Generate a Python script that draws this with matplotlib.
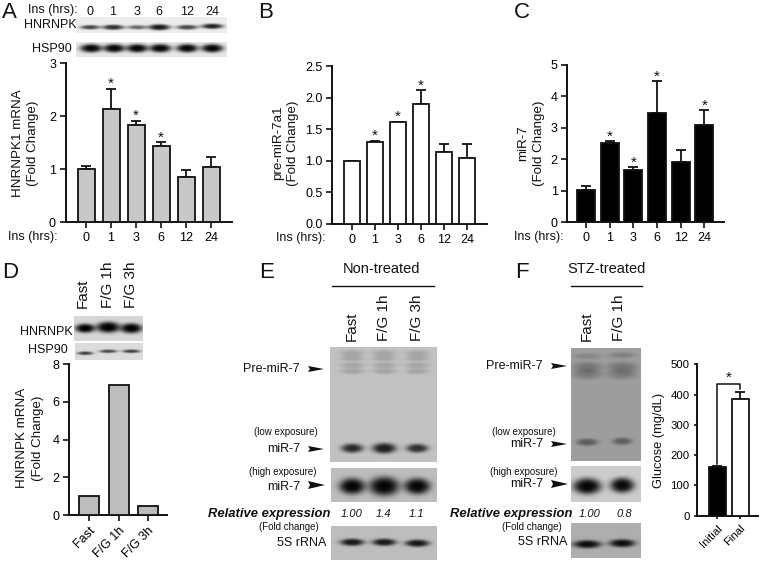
#!/usr/bin/env python3
"""Recreate the multi-panel figure: bar charts plus blot panels."""

import matplotlib

matplotlib.use("Agg")

import matplotlib.pyplot as plt
import numpy as np

plt.rcParams["font.family"] = ["Liberation Sans", "DejaVu Sans"]
plt.rcParams["text.color"] = "#111111"

W, H = 760, 563

# Bar data
hours = ["0", "1", "3", "6", "12", "24"]
hnrnpk1_mrna = [1.0, 2.14, 1.84, 1.44, 0.85, 1.05]
hnrnpk1_err = [0.07, 0.38, 0.08, 0.07, 0.14, 0.18]
hnrnpk1_stars = [1, 2, 3]

pre_mir = [1.0, 1.30, 1.61, 1.90, 1.14, 1.05]
pre_mir_err = [0.005, 0.02, 0.01, 0.22, 0.13, 0.22]
pre_mir_stars = [1, 2, 3]

mir7 = [1.03, 2.53, 1.66, 3.47, 1.90, 3.08]
mir7_err = [0.11, 0.04, 0.08, 1.0, 0.40, 0.47]
mir7_stars = [1, 2, 3, 5]

feeding = ["Fast", "F/G 1h", "F/G 3h"]
hnrnpk_mrna = [1.0, 6.9, 0.5]

glucose_groups = ["Initial", "Final"]
glucose = [160, 385]
glucose_err = [5, 22]

# Blot bands: (x centre px, y centre px, half width, half height, darkness)
a_hnrnpk = [(90, 27, 10, 2.2, 0.7), (113, 27, 11, 2.6, 0.8), (137, 27, 10, 2.2, 0.55),
            (159, 27, 11, 3, 0.9), (187, 27, 11, 2.4, 0.7), (212, 26, 11, 2.6, 0.85)]
a_hsp90 = [(x, 48, 11, 4.2, 0.97) for x in (91, 114, 137, 160, 187, 212)]
d_hnrnpk = [(85, 328, 10, 4.5, 1.0), (108, 327, 12, 5.5, 1.0), (131, 328, 11, 5, 1.0)]
d_hsp90 = [(85, 353, 8, 1.8, 0.7), (108, 351, 9, 1.8, 0.65), (131, 351, 9, 1.8, 0.7)]

e_lanes = [352, 384, 417]
e_main = [(x, y, 12, 3, 0.15) for x in e_lanes for y in (353, 358, 365, 371)]
e_main += [(352, 448, 11, 4.6, 0.78), (384, 448, 12, 5.2, 0.85), (417, 448, 11, 4.4, 0.75)]
e_high = [(352, 486, 13, 8, 0.97), (384, 486, 15, 9.5, 0.97), (417, 486, 13, 8, 0.97)]
e_rrna = [(352, 542, 12, 3.6, 0.88), (384, 542, 12, 3.6, 0.88), (417, 543, 12, 3.6, 0.88)]

f_main = [(587, 356, 14, 3, 0.15), (622, 355, 14, 3, 0.18),
          (587, 367, 15, 5.5, 0.25), (622, 367, 15, 5.5, 0.25),
          (587, 374, 15, 5, 0.22), (622, 374, 15, 5, 0.22),
          (587, 442, 11, 3.6, 0.42), (622, 441, 10, 3.6, 0.4)]
f_high = [(587, 486, 14, 8, 0.97), (622, 485, 12, 7.5, 0.95)]
f_rrna = [(587, 544, 14, 4, 0.92), (622, 543, 13, 4, 0.92)]


def px_axes(fig, left, right, top, bottom):
    """Make an axes from pixel edges (y counted from the top of the image)."""
    return fig.add_axes([left / W, 1 - bottom / H, (right - left) / W, (bottom - top) / H])


def bar_panel(fig, edges, first, step, width, ymax, yticks, values, labels,
              errs=None, stars=(), color="#c8c8c8", rotate=False, ticklabels=None,
              ticksize=9, ticklen=4):
    """Draw one bar chart with the axes at the given pixel edges."""
    left, right, top, bottom = edges
    ax = px_axes(fig, left, right, top, bottom)
    x = np.arange(len(values))
    colors = color if isinstance(color, list) else [color] * len(values)
    ax.bar(x, values, width=width / step, color=colors, edgecolor="#111111", linewidth=1.3, zorder=3)
    if errs is not None:
        ax.errorbar(x, values, yerr=[np.zeros(len(errs)), errs], fmt="none", ecolor="#111111",
                    elinewidth=1.3, capsize=3.4, capthick=1.3, zorder=2)
        for i in stars:
            ax.annotate("*", (x[i], values[i] + errs[i]), xytext=(0, -1.5), textcoords="offset points",
                        ha="center", va="bottom", fontsize=11)
    ax.set_xlim((left - first) / step, (right - first) / step)
    ax.set_ylim(0, ymax)
    ax.set_yticks(yticks)
    ax.set_yticklabels(ticklabels if ticklabels else [str(t) for t in yticks])
    ax.set_xticks(x)
    if rotate:
        ax.set_xticklabels(labels, rotation=45, ha="right", rotation_mode="anchor")
    else:
        ax.set_xticklabels(labels)
    ax.tick_params(axis="both", length=ticklen, width=1.2, labelsize=ticksize, pad=3, color="#111111")
    for side in ("top", "right"):
        ax.spines[side].set_visible(False)
    for side in ("left", "bottom"):
        ax.spines[side].set_linewidth(1.4)
        ax.spines[side].set_color("#111111")
    ax.patch.set_alpha(0)
    return ax


def blot(fig, edges, background, bands):
    """Draw a gel panel as an image, with soft dark bands on a grey ground."""
    left, right, top, bottom = edges
    ax = px_axes(fig, left, right, top, bottom)
    xx, yy = np.meshgrid(np.arange(left, right, 0.5), np.arange(top, bottom, 0.5))
    img = np.full(xx.shape, float(background))
    for cx, cy, wx, wy, dark in bands:
        shape = np.exp(-(((xx - cx) / wx) ** 2 + ((yy - cy) / wy) ** 2) ** 1.6)
        img = img * (1 - dark * shape)
    ax.imshow(img, cmap="gray", vmin=0, vmax=1, extent=(left, right, bottom, top), aspect="auto")
    ax.axis("off")


def make_plot(output_filename):
    """Lay out all panels and save the figure."""
    fig = plt.figure(figsize=(W / 100, H / 100), dpi=100)

    # Overlay in pixel coordinates for the free-standing text
    over = fig.add_axes([0, 0, 1, 1])
    over.set_xlim(0, W)
    over.set_ylim(H, 0)
    over.axis("off")

    def label(x, y, s, size=9, ha="left", rotation=0, **kw):
        over.text(x, y, s, fontsize=size, ha=ha, va="center", rotation=rotation,
                  rotation_mode="anchor" if rotation and ha != "center" else None, **kw)

    def ylabel(x, y, s):
        label(x, y, s, size=9.6, ha="center", rotation=90, multialignment="center", linespacing=1.4)

    def arrow(x0, x1, y, half):
        over.fill([x0, x1, x0, x0 + 2], [y - half, y, y + half, y], color="#111111", lw=0)

    # Blots
    blot(fig, (76, 227, 17, 33), 0.93, a_hnrnpk)
    blot(fig, (76, 227, 42, 57), 0.9, a_hsp90)
    blot(fig, (74, 143, 316, 341), 0.84, d_hnrnpk)
    blot(fig, (75, 143, 343, 360), 0.86, d_hsp90)
    blot(fig, (330, 437, 347, 462), 0.76, e_main)
    blot(fig, (331, 437, 468, 502), 0.74, e_high)
    blot(fig, (331, 437, 526, 560), 0.74, e_rrna)
    blot(fig, (571, 641, 348, 461), 0.62, f_main)
    blot(fig, (571, 641, 466, 502), 0.8, f_high)
    blot(fig, (571, 641, 523, 558), 0.68, f_rrna)

    # Bar charts
    bar_panel(fig, (65.7, 232, 63.3, 222.3), 86, 25, 17, 3, [0, 1, 2, 3],
              hnrnpk1_mrna, hours, hnrnpk1_err, hnrnpk1_stars)
    bar_panel(fig, (332.3, 486.7, 66.3, 224), 351.7, 23.1, 16, 2.5, [0, 0.5, 1, 1.5, 2, 2.5],
              pre_mir, hours, pre_mir_err, pre_mir_stars, color="white",
              ticklabels=["0.0", "0.5", "1.0", "1.5", "2.0", "2.5"])
    bar_panel(fig, (567.3, 724.3, 64.7, 222.3), 586, 23.67, 18, 5, [0, 1, 2, 3, 4, 5],
              mir7, hours, mir7_err, mir7_stars, color="black")
    bar_panel(fig, (69.3, 167.3, 364.3, 515), 89.3, 29.3, 20, 8, [0, 2, 4, 6, 8],
              hnrnpk_mrna, feeding, color="#bdbdbd", rotate=True)
    ax_g = bar_panel(fig, (697.3, 758.3, 364.3, 515.7), 717.3, 23, 16.7, 500, [0, 100, 200, 300, 400, 500],
                     glucose, glucose_groups, glucose_err, color=["black", "white"], rotate=True,
                     ticksize=8.2, ticklen=2.5)
    ax_g.plot([0, 0, 1, 1], [170, 435, 435, 420], color="#111111", lw=1.1, zorder=4)
    ax_g.text(0.5, 432, "*", ha="center", va="bottom", fontsize=11)

    # Panel letters
    for x, y, s in [(2, 12, "A"), (258, 12, "B"), (514, 12, "C"),
                    (2, 272, "D"), (259, 272, "E"), (515, 272, "F")]:
        label(x, y, s, size=16)

    # Panel A-C text
    label(28, 10, "Ins (hrs):")
    for x, s in zip((90, 113, 137, 159, 187, 212), hours):
        label(x, 12, s, ha="center")
    label(77, 25, "HNRNPK", ha="right")
    label(72, 49, "HSP90", ha="right")
    ylabel(25.5, 143, "HNRNPK1 mRNA\n(Fold Change)")
    label(8, 237, "Ins (hrs):")
    ylabel(285.5, 143, "pre-miR-7a1\n(Fold Change)")
    label(276, 238, "Ins (hrs):")
    ylabel(531, 143, "miR-7\n(Fold Change)")
    label(514, 237, "Ins (hrs):")

    # Panel D text
    for x, s in zip((83, 108, 131), feeding):
        over.text(x, 308, s, fontsize=11, rotation=90, ha="center", va="bottom")
    label(73, 332, "HNRNPK", ha="right")
    label(68, 350, "HSP90", ha="right")
    ylabel(30, 438, "HNRNPK mRNA\n(Fold Change)")

    # Panel E text
    label(381, 269, "Non-treated", size=10.5, ha="center")
    over.plot([332, 434], [286, 286], color="#111111", lw=1)
    for x, s in zip(e_lanes, feeding):
        over.text(x, 341, s, fontsize=11, rotation=90, ha="center", va="bottom")
    label(300, 369, "Pre-miR-7", ha="right")
    arrow(308, 324, 369, 3)
    label(286, 432, "(low exposure)", size=7, ha="center")
    label(300, 449, "miR-7", ha="right")
    arrow(308, 324, 449, 3)
    label(283, 472, "(high exposure)", size=7, ha="center")
    label(300, 487, "miR-7", ha="right")
    arrow(308, 325, 485, 4)
    label(208, 514, "Relative expression", size=9.4, weight="bold", style="italic")
    for x, s in zip(e_lanes, ("1.00", "1.4", "1.1")):
        label(x, 514, s, size=8, ha="center", style="italic")
    label(289, 527, "(Fold change)", size=7, ha="center")
    label(326, 543, "5S rRNA", ha="right")

    # Panel F text
    label(607, 269, "STZ-treated", size=10.5, ha="center")
    over.plot([571, 642], [286, 286], color="#111111", lw=1)
    for x, s in zip((587, 619), feeding):
        over.text(x, 341, s, fontsize=11, rotation=90, ha="center", va="bottom")
    label(543, 366, "Pre-miR-7", ha="right")
    arrow(551, 567, 366, 3)
    label(524, 432, "(low exposure)", size=7, ha="center")
    label(543, 444, "miR-7", ha="right")
    arrow(551, 567, 444, 3)
    label(524, 472, "(high exposure)", size=7, ha="center")
    label(543, 484, "miR-7", ha="right")
    arrow(551, 568, 484, 4)
    label(450, 514, "Relative expression", size=9.4, weight="bold", style="italic")
    for x, s in zip((590, 624), ("1.00", "0.8")):
        label(x, 514, s, size=8, ha="center", style="italic")
    label(532, 527, "(Fold change)", size=7, ha="center")
    label(567, 542, "5S rRNA", ha="right")
    label(659, 440, "Glucose (mg/dL)", size=9.3, ha="center", rotation=90)

    fig.savefig(output_filename, dpi=100)


if __name__ == "__main__":
    make_plot("out.png")
